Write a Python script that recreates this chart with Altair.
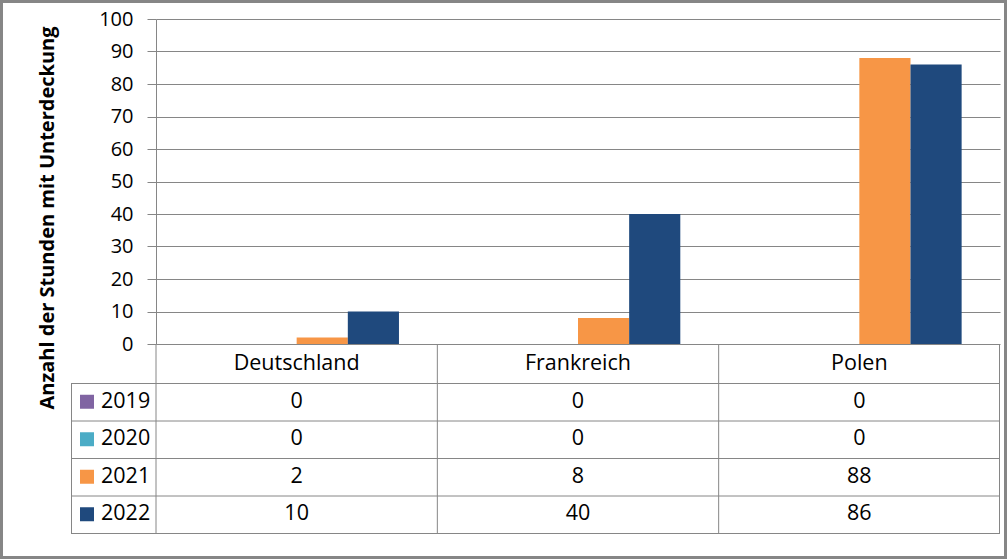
import altair as alt
import pandas as pd

categories = ["Deutschland", "Frankreich", "Polen"]
series = ["2019", "2020", "2021", "2022"]
values_2019 = [0, 0, 0]
values_2020 = [0, 0, 0]
values_2021 = [2, 8, 88]
values_2022 = [10, 40, 86]
colors = ["#8064A2", "#4BACC6", "#F79646", "#1F497D"]
y_ticks = list(range(0, 101, 10))
y_title = "Anzahl der Stunden mit Unterdeckung"

all_values = [values_2019, values_2020, values_2021, values_2022]
rows = []
for s, vals in zip(series, all_values):
    for c, v in zip(categories, vals):
        rows.append({"Land": c, "Jahr": s, "Wert": v})
df = pd.DataFrame(rows)

# layout (pixels, relative to plot origin)
W, H = 844, 325
TABLE_TOP = 364          # top of first series row
ROW = 37.5
LEFT_COL = -85           # left border of the table
GRID = "#868686"
FONT = "Open Sans"
FS = 20
TFS = 21.5

x_scale = alt.Scale(domain=categories, paddingInner=0, paddingOuter=0)
color_scale = alt.Scale(domain=series, range=colors)
one = pd.DataFrame({"k": [0]})

bars = alt.Chart(df).mark_bar().encode(
    x=alt.X("Land:N", scale=x_scale, axis=None),
    xOffset=alt.XOffset("Jahr:N", scale=alt.Scale(domain=series, paddingInner=0, paddingOuter=0.75)),
    y=alt.Y(
        "Wert:Q",
        scale=alt.Scale(domain=[0, 100], nice=False),
        axis=alt.Axis(
            values=y_ticks, grid=True, gridColor=GRID, gridWidth=1,
            domainColor=GRID, tickColor=GRID, tickSize=9,
            labelFont=FONT, labelFontSize=FS, labelColor="black", labelPadding=14,
            title=y_title, titleFont=FONT, titleFontSize=FS, titleFontWeight="bold",
            titleColor="black", titleX=-109, titleY=198.5, titleAngle=270,
            titleAlign="center", titleBaseline="middle",
        ),
    ),
    color=alt.Color("Jahr:N", scale=color_scale, legend=None),
)

header = alt.Chart(pd.DataFrame({"Land": categories})).mark_text(
    font=FONT, fontSize=TFS, color="black", baseline="middle"
).encode(
    x=alt.X("Land:N", scale=x_scale, axis=None),
    y=alt.value((H + TABLE_TOP) / 2),
    text=alt.Text("Land:N"),
)

layers = [bars, header]

for i, s in enumerate(series):
    yc = TABLE_TOP + ROW * (i + 0.5)
    cells = alt.Chart(df).transform_filter(alt.datum.Jahr == s).mark_text(
        font=FONT, fontSize=TFS, color="black", baseline="middle"
    ).encode(
        x=alt.X("Land:N", scale=x_scale, axis=None),
        y=alt.value(yc),
        text=alt.Text("Wert:Q"),
    )
    sdf = pd.DataFrame({"Jahr": [s]})
    key = alt.Chart(sdf).mark_square(size=196, opacity=1, filled=True).encode(
        x=alt.value(-69), y=alt.value(yc),
        color=alt.Color("Jahr:N", scale=color_scale, legend=None),
    )
    lab = alt.Chart(sdf).mark_text(
        font=FONT, fontSize=TFS, color="black", baseline="middle", align="left"
    ).encode(x=alt.value(-55), y=alt.value(yc), text="Jahr:N")
    layers += [cells, key, lab]

# horizontal table lines
for i in range(len(series) + 1):
    yl = TABLE_TOP + ROW * i + 0.5
    layers.append(
        alt.Chart(one).mark_rule(color=GRID, strokeWidth=1).encode(
            x=alt.value(LEFT_COL), x2=alt.value(W), y=alt.value(yl)
        )
    )

# vertical table lines at category boundaries
layers.append(
    alt.Chart(pd.DataFrame({"Land": categories})).mark_rule(color=GRID, strokeWidth=1).encode(
        x=alt.X("Land:N", scale=x_scale, axis=None, bandPosition=0),
        y=alt.value(H), y2=alt.value(TABLE_TOP + ROW * len(series)),
    )
)
layers.append(
    alt.Chart(one).mark_rule(color=GRID, strokeWidth=1).encode(
        x=alt.value(W - 0.5), y=alt.value(H), y2=alt.value(TABLE_TOP + ROW * len(series))
    )
)
layers.append(
    alt.Chart(one).mark_rule(color=GRID, strokeWidth=1).encode(
        x=alt.value(LEFT_COL + 0.5), y=alt.value(TABLE_TOP), y2=alt.value(TABLE_TOP + ROW * len(series))
    )
)
# outer chart border
layers.append(
    alt.Chart(one).mark_rect(filled=False, stroke=GRID, strokeWidth=3).encode(
        x=alt.value(-154.5), x2=alt.value(849.5), y=alt.value(-17.5), y2=alt.value(538.5)
    )
)

chart = alt.layer(*layers).properties(
    width=W, height=H,
    autosize=alt.AutoSizeParams(type="none"),
    padding={"left": 156, "top": 19, "right": 7, "bottom": 215},
    background="white",
).configure_view(stroke=None)

chart.save("out.html", embed_options={"renderer": "svg", "actions": False})
